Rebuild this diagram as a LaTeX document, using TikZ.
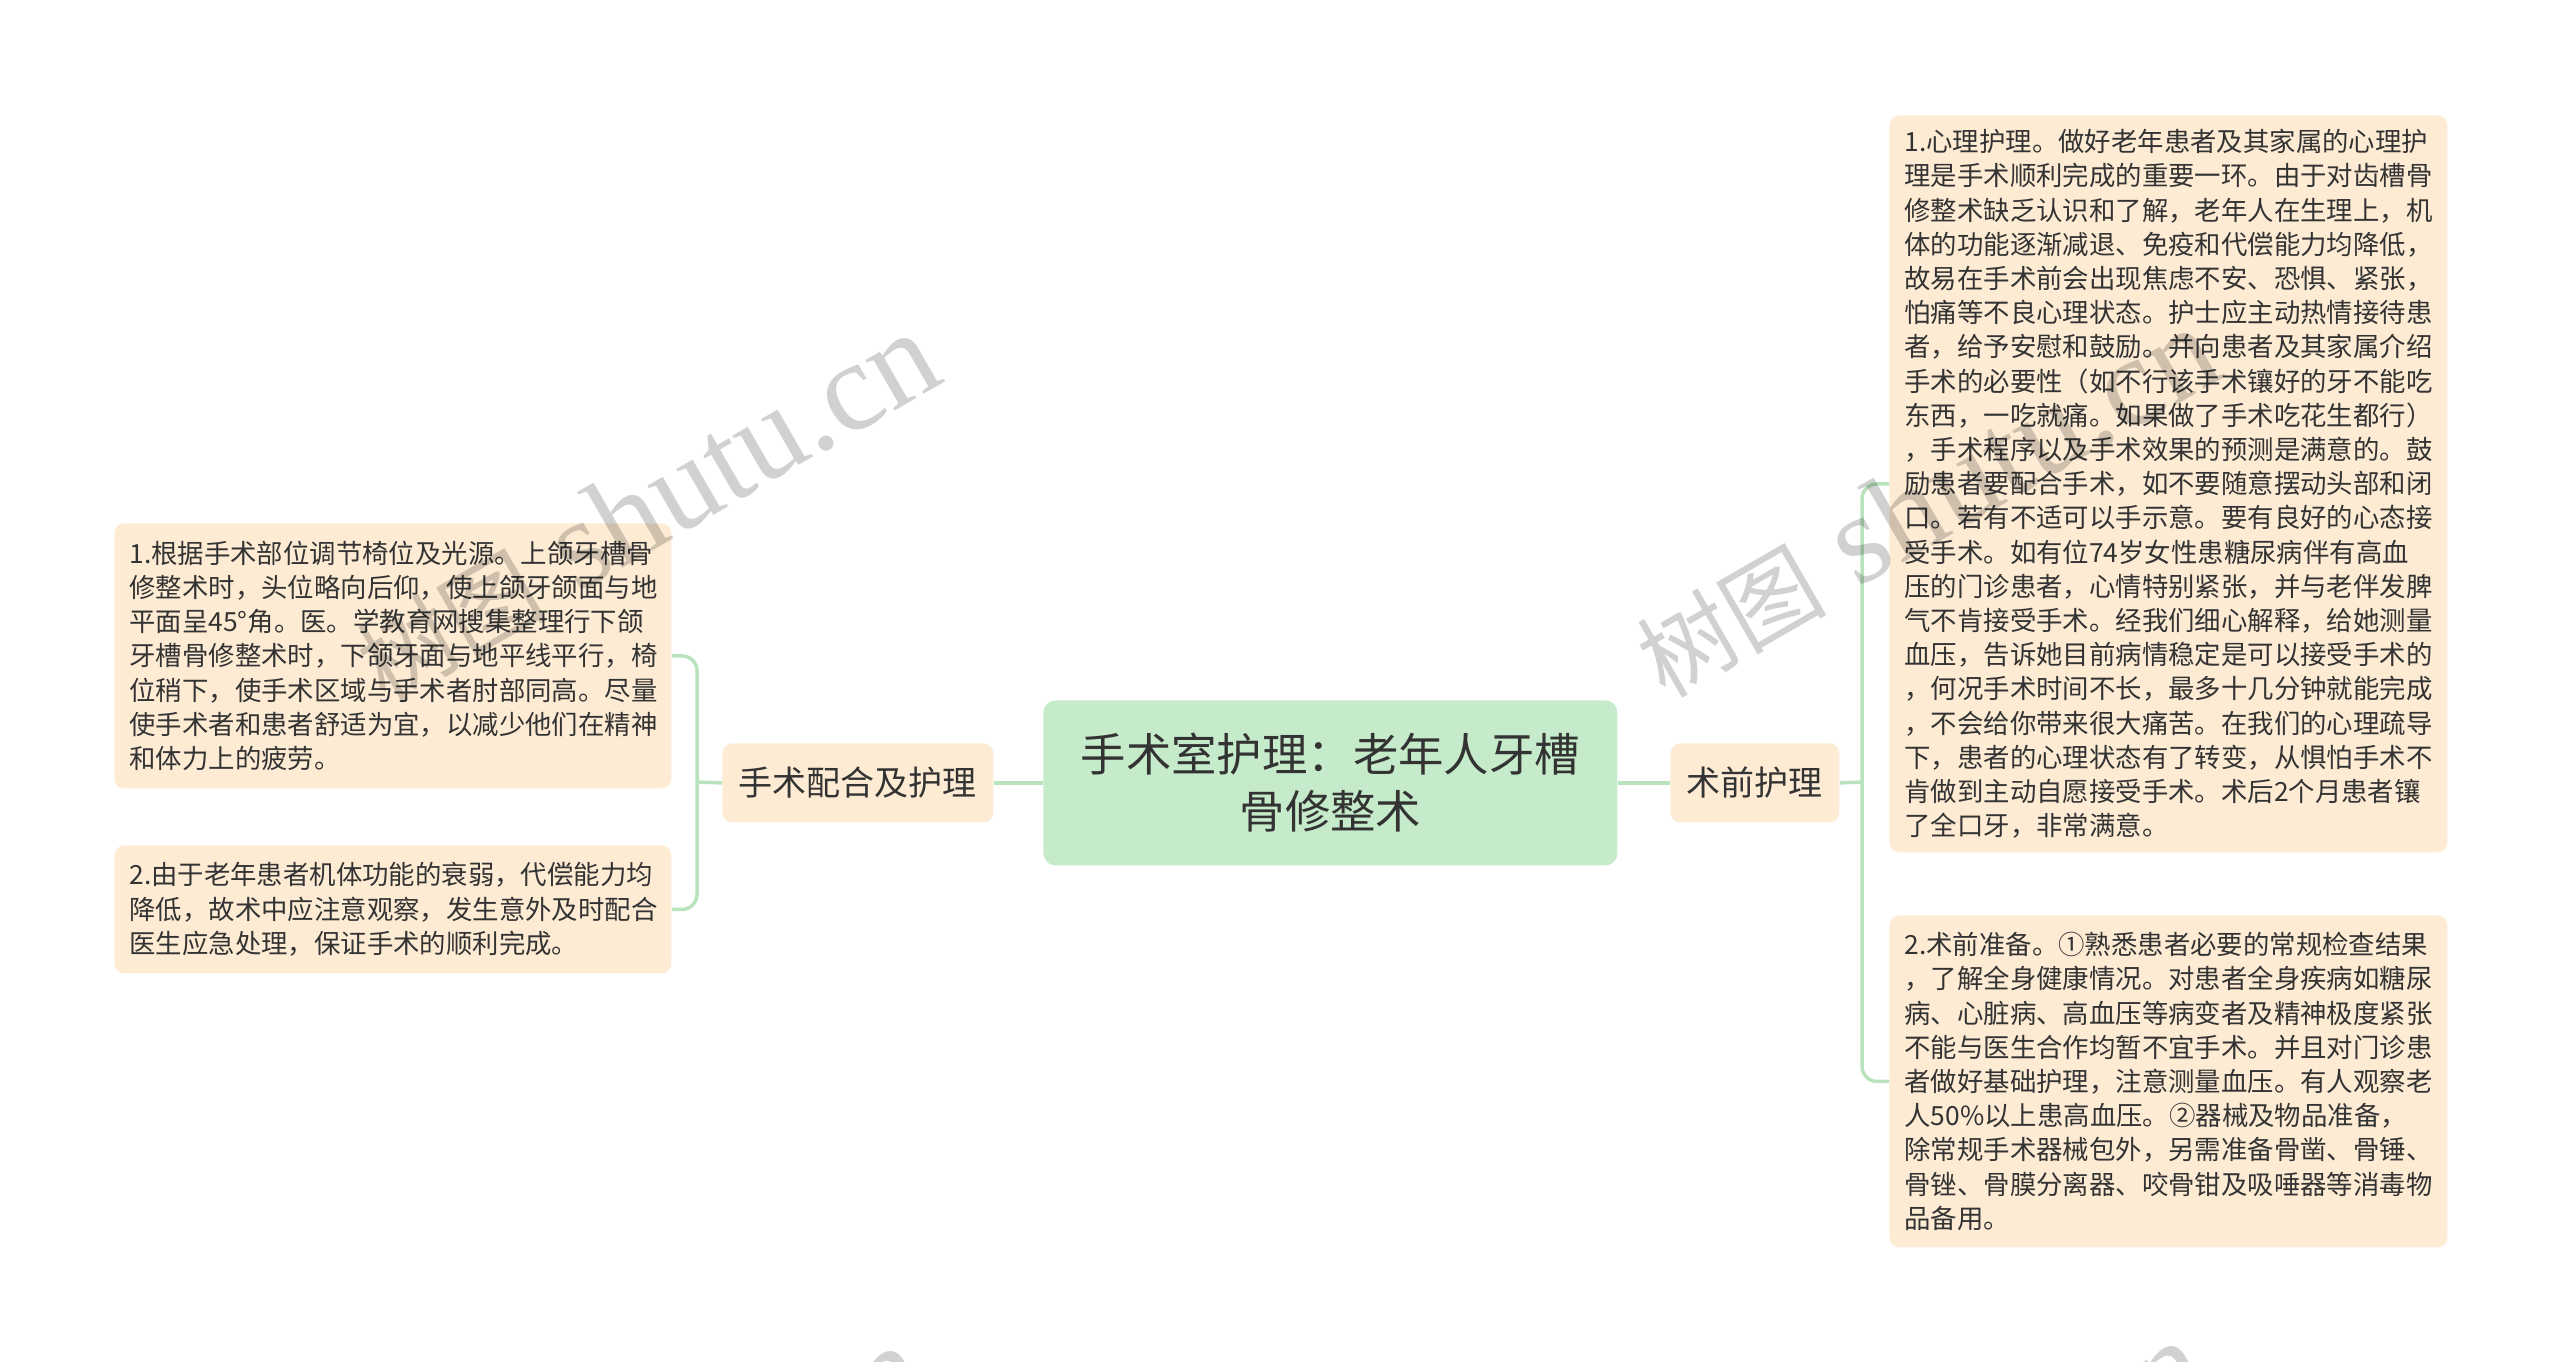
\documentclass[tikz,border=0pt]{standalone}
\usepackage{fontspec}
\setmainfont{Noto Sans CJK SC}
\newfontfamily\wmlat{Liberation Serif}
\newfontfamily\wmcjk{Noto Sans CJK SC}
\definecolor{leafc}{HTML}{FDEBD4}
\definecolor{rootc}{HTML}{C6EBCA}
\definecolor{linec}{HTML}{B8E3BD}
\definecolor{txt}{HTML}{333333}
\newcommand{\wmtext}{{\wmcjk\fontsize{47.5}{50}\selectfont 树图}\hspace{16pt}{\wmlat\fontsize{63.5}{66}\selectfont shutu.cn}}
\begin{document}
\begin{tikzpicture}[x=0.5pt,y=-0.5pt,
  box/.style={draw=none, anchor=north west, text=txt, inner ysep=0pt},
  leaf/.style={box, fill=leafc, rounded corners=5pt, align=left, inner xsep=7.5pt,
    font=\fontsize{13.2}{17.1}\selectfont},
  branch/.style={box, fill=leafc, rounded corners=5pt, align=center, inner xsep=0pt,
    minimum height=39.5pt, font=\fontsize{17}{20}\selectfont},
  root/.style={box, fill=rootc, rounded corners=6pt, align=center, inner xsep=0pt,
    minimum width=287pt, minimum height=82.5pt, font=\fontsize{22.7}{28.5}\selectfont},
  conn/.style={draw=linec, line width=1.75pt, rounded corners=7.5pt},
  wm/.style={anchor=base west, rotate=30, text=black, text opacity=0.18, inner sep=0pt}]
\useasboundingbox (0,0) rectangle (2560,1361);

% root
\node[root] (root) at (1043,700) {手术室护理：老年人牙槽\\骨修整术};

% branches
\node[branch, minimum width=135.5pt] (lb) at (722,743) {手术配合及护理};
\node[branch, minimum width=84.5pt] (rb) at (1670,743) {术前护理};

% left leaves
\node[leaf, text width=263.5pt, minimum height=132.5pt] (l1) at (114,523) {1.根据手术部位调节椅位及光源。上颌牙槽骨\\修整术时，头位略向后仰，使上颌牙颌面与地\\平面呈45°角。医。学教育网搜集整理行下颌\\牙槽骨修整术时，下颌牙面与地平线平行，椅\\位稍下，使手术区域与手术者肘部同高。尽量\\使手术者和患者舒适为宜，以减少他们在精神\\和体力上的疲劳。};
\node[leaf, text width=263.5pt, minimum height=64pt] (l2) at (114,845) {2.由于老年患者机体功能的衰弱，代偿能力均\\降低，故术中应注意观察，发生意外及时配合\\医生应急处理，保证手术的顺利完成。};

% right leaves
\node[leaf, text width=264pt, minimum height=368.5pt] (r1) at (1889,115) {1.心理护理。做好老年患者及其家属的心理护\\理是手术顺利完成的重要一环。由于对齿槽骨\\修整术缺乏认识和了解，老年人在生理上，机\\体的功能逐渐减退、免疫和代偿能力均降低，\\故易在手术前会出现焦虑不安、恐惧、紧张，\\怕痛等不良心理状态。护士应主动热情接待患\\者，给予安慰和鼓励。并向患者及其家属介绍\\手术的必要性（如不行该手术镶好的牙不能吃\\东西，一吃就痛。如果做了手术吃花生都行）\\，手术程序以及手术效果的预测是满意的。鼓\\励患者要配合手术，如不要随意摆动头部和闭\\口。若有不适可以手示意。要有良好的心态接\\受手术。如有位74岁女性患糖尿病伴有高血\\压的门诊患者，心情特别紧张，并与老伴发脾\\气不肯接受手术。经我们细心解释，给她测量\\血压，告诉她目前病情稳定是可以接受手术的\\，何况手术时间不长，最多十几分钟就能完成\\，不会给你带来很大痛苦。在我们的心理疏导\\下，患者的心理状态有了转变，从惧怕手术不\\肯做到主动自愿接受手术。术后2个月患者镶\\了全口牙，非常满意。};
\node[leaf, text width=264pt, minimum height=166pt] (r2) at (1889,915) {2.术前准备。①熟悉患者必要的常规检查结果\\，了解全身健康情况。对患者全身疾病如糖尿\\病、心脏病、高血压等病变者及精神极度紧张\\不能与医生合作均暂不宜手术。并且对门诊患\\者做好基础护理，注意测量血压。有人观察老\\人50\%以上患高血压。②器械及物品准备，\\除常规手术器械包外，另需准备骨凿、骨锤、\\骨锉、骨膜分离器、咬骨钳及吸唾器等消毒物\\品备用。};

% connectors
\coordinate (bl) at (697,782);
\coordinate (br) at (1862,782);
\draw[conn] (root.west) -- (lb.east);
\draw[conn] (root.east) -- (rb.west);
\draw[conn] (lb.west) -- (bl);
\draw[conn] (rb.east) -- (br);
\draw[conn] (l1.east) -| (bl) |- (l2.east);
\draw[conn] (r1.west) -| (br) |- (r2.west);

% watermarks
\node[wm] (wm1) at (385,705) {\wmtext};
\node[wm] (wm2) at (1665,700) {\wmtext};
\node[wm] (wm3) at (371,1718) {\wmtext};
\node[wm] (wm4) at (1652,1713) {\wmtext};
\end{tikzpicture}
\end{document}
